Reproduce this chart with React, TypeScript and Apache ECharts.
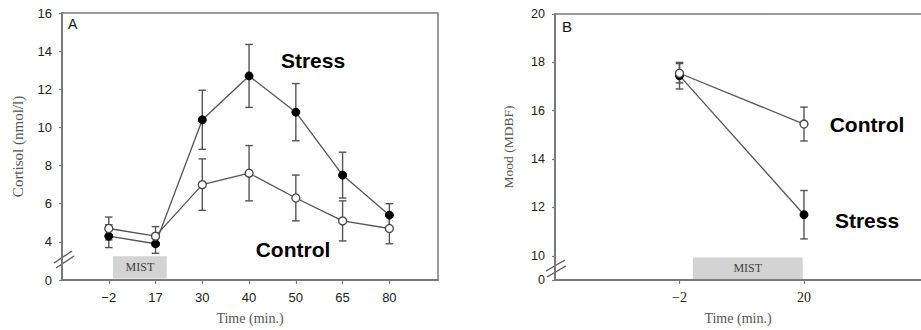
import React, { useEffect, useRef } from "react";
import * as echarts from "echarts";

// Panel A: salivary cortisol
const timesA = ["−2", "17", "30", "40", "50", "65", "80"];
const cortisolStress = [4.3, 3.9, 10.4, 12.7, 10.8, 7.5, 5.4];
const cortisolStressErr = [0.6, 0.5, 1.55, 1.65, 1.5, 1.2, 0.6];
const cortisolControl = [4.7, 4.3, 7.0, 7.6, 6.3, 5.1, 4.7];
const cortisolControlErr = [0.6, 0.5, 1.35, 1.45, 1.2, 1.05, 0.8];
const cortisolTicks = [2, 4, 6, 8, 10, 12, 14, 16]; // 2 is drawn as "0" (axis break)

// Panel B: mood
const timesB = ["−2", "20"];
const moodStress = [17.45, 11.7];
const moodStressErr = [0.55, 1.0];
const moodControl = [17.55, 15.45];
const moodControlErr = [0.4, 0.7];
const moodTicks = [9, 10, 12, 14, 16, 18, 20]; // 9 is drawn as "0" (axis break)

const SANS = "Liberation Sans, Arial, sans-serif";
const SERIF = "Liberation Serif, Times New Roman, serif";
const AXIS = "#7a7a7a";
const LINE = "#555";

function errData(vals: number[], errs: number[]) {
  return vals.map((v, i) => [i + 1, v - errs[i], v + errs[i]]);
}
function pts(vals: number[]) {
  return vals.map((v, i) => [i + 1, v]);
}

function errorBarSeries(data: number[][], axisIdx: number) {
  return {
    type: "custom",
    xAxisIndex: axisIdx,
    yAxisIndex: axisIdx,
    z: 2,
    data,
    renderItem: (params: any, api: any) => {
      const x = api.value(0);
      const lo = api.coord([x, api.value(1)]);
      const hi = api.coord([x, api.value(2)]);
      const w = 3.8;
      const style = { stroke: LINE, lineWidth: 1.4 };
      return {
        type: "group",
        children: [
          { type: "line", shape: { x1: lo[0], y1: lo[1], x2: hi[0], y2: hi[1] }, style },
          { type: "line", shape: { x1: lo[0] - w, y1: lo[1], x2: lo[0] + w, y2: lo[1] }, style },
          { type: "line", shape: { x1: hi[0] - w, y1: hi[1], x2: hi[0] + w, y2: hi[1] }, style },
        ],
      };
    },
  };
}

function lineSeries(vals: number[], filled: boolean, axisIdx: number, extra: any = {}) {
  return {
    type: "line",
    xAxisIndex: axisIdx,
    yAxisIndex: axisIdx,
    z: 3,
    data: pts(vals),
    symbol: "circle",
    symbolSize: 8,
    lineStyle: { color: LINE, width: 1.3 },
    itemStyle: filled
      ? { color: "#000", borderColor: "#000", borderWidth: 1 }
      : { color: "#fff", borderColor: "#444", borderWidth: 1.3 },
    ...extra,
  };
}

function mistArea(x0: number, y0: number, x1: number, y1: number) {
  return {
    markArea: {
      silent: true,
      itemStyle: { color: "#d3d3d3", opacity: 1 },
      label: {
        show: true,
        position: "inside",
        formatter: "MIST",
        fontFamily: SERIF,
        fontSize: 12,
        color: "#444",
      },
      data: [[{ xAxis: x0, yAxis: y0 }, { xAxis: x1, yAxis: y1 }]],
    },
  };
}

export default function App() {
  const ref = useRef<HTMLDivElement>(null);
  useEffect(() => {
    if (!ref.current) return;
    const chart = echarts.init(ref.current, undefined, { renderer: "svg" });

    const yAxisCommon = (min: number, max: number, ticks: number[], breakVal: number, name: string, gap: number, gridIndex: number, fs: number, nameFs: number) => ({
      type: "value",
      gridIndex,
      min,
      max,
      axisLine: { show: true, lineStyle: { color: AXIS, width: 2 } },
      axisTick: { show: true, length: 3, lineStyle: { color: AXIS, width: 1.2 }, customValues: ticks },
      axisLabel: {
        customValues: ticks,
        margin: 10,
        fontFamily: SANS,
        fontSize: fs,
        color: "#222",
        formatter: (v: number) => (v === breakVal ? "0" : String(v)),
      },
      splitLine: { show: false },
      name,
      nameLocation: "middle",
      nameGap: gap,
      nameTextStyle: { fontFamily: SERIF, fontSize: nameFs, color: "#555" },
    });

    const option: any = {
      animation: false,
      grid: [
        { left: 62, top: 13, width: 376, height: 268, show: true, borderColor: AXIS, borderWidth: 1.5, backgroundColor: "transparent" },
        { left: 555, top: 14, width: 366, height: 269, show: false },
      ],
      xAxis: [
        {
          type: "value",
          gridIndex: 0,
          min: 0,
          max: 8.04,
          axisLine: { show: true, lineStyle: { color: AXIS, width: 2 } },
          axisTick: { show: true, length: 4, lineStyle: { color: AXIS, width: 1.2 }, customValues: [1, 2, 3, 4, 5, 6, 7] },
          axisLabel: {
            customValues: [1, 2, 3, 4, 5, 6, 7],
            margin: 11,
            fontFamily: SANS,
            fontSize: 13,
            color: "#222",
            formatter: (v: number) => timesA[Math.round(v) - 1] ?? "",
          },
          splitLine: { show: false },
          name: "Time (min.)",
          nameLocation: "middle",
          nameGap: 31,
          nameTextStyle: { fontFamily: SERIF, fontSize: 14, color: "#555" },
        },
        {
          type: "value",
          gridIndex: 1,
          min: 0,
          max: 2.94,
          axisLine: { show: true, lineStyle: { color: AXIS, width: 2 } },
          axisTick: { show: true, length: 4, lineStyle: { color: AXIS, width: 1.2 }, customValues: [1, 2] },
          axisLabel: {
            customValues: [1, 2],
            margin: 10,
            fontFamily: SERIF,
            fontSize: 14,
            color: "#222",
            formatter: (v: number) => timesB[Math.round(v) - 1] ?? "",
          },
          splitLine: { show: false },
          name: "Time (min.)",
          nameLocation: "middle",
          nameGap: 31,
          nameTextStyle: { fontFamily: SERIF, fontSize: 14, color: "#555" },
        },
        {
          type: "value",
          gridIndex: 1,
          position: "top",
          min: 0,
          max: 2.94,
          axisLine: { show: true, lineStyle: { color: AXIS, width: 1.5 } },
          axisTick: { show: false },
          axisLabel: { show: false },
          splitLine: { show: false },
        },
      ],
      yAxis: [
        yAxisCommon(2, 16, cortisolTicks, 2, "Cortisol (nmol/l)", 37, 0, 13, 15),
        yAxisCommon(9, 20, moodTicks, 9, "Mood (MDBF)", 40, 1, 12.5, 13.5),
      ],
      series: [
        errorBarSeries(errData(cortisolStress, cortisolStressErr), 0),
        errorBarSeries(errData(cortisolControl, cortisolControlErr), 0),
        lineSeries(cortisolStress, true, 0, mistArea(1.09, 2.08, 2.24, 3.25)),
        lineSeries(cortisolControl, false, 0),
        errorBarSeries(errData(moodStress, moodStressErr), 1),
        errorBarSeries(errData(moodControl, moodControlErr), 1),
        lineSeries(moodStress, true, 1, mistArea(1.107, 9.04, 1.99, 9.93)),
        lineSeries(moodControl, false, 1),
      ],
      graphic: [
        { type: "text", left: 68, top: 17, style: { text: "A", fontFamily: SANS, fontSize: 14, fill: "#111" } },
        { type: "text", left: 562, top: 19, style: { text: "B", fontFamily: SANS, fontSize: 15, fill: "#111" } },
        { type: "text", x: 313, y: 60, style: { text: "Stress", fontFamily: SANS, fontWeight: "bold", fontSize: 21, fill: "#000", align: "center", verticalAlign: "middle" } },
        { type: "text", x: 293, y: 249, style: { text: "Control", fontFamily: SANS, fontWeight: "bold", fontSize: 21, fill: "#000", align: "center", verticalAlign: "middle" } },
        { type: "text", x: 867, y: 124, style: { text: "Control", fontFamily: SANS, fontWeight: "bold", fontSize: 21, fill: "#000", align: "center", verticalAlign: "middle" } },
        { type: "text", x: 867, y: 220, style: { text: "Stress", fontFamily: SANS, fontWeight: "bold", fontSize: 21, fill: "#000", align: "center", verticalAlign: "middle" } },
        // axis-break marks
        { type: "line", shape: { x1: 54, y1: 263, x2: 72, y2: 251 }, style: { stroke: LINE, lineWidth: 1.3 } },
        { type: "line", shape: { x1: 56, y1: 268, x2: 74, y2: 256 }, style: { stroke: LINE, lineWidth: 1.3 } },
        { type: "line", shape: { x1: 546, y1: 271, x2: 565, y2: 260 }, style: { stroke: LINE, lineWidth: 1.3 } },
        { type: "line", shape: { x1: 547, y1: 277, x2: 566, y2: 266 }, style: { stroke: LINE, lineWidth: 1.3 } },
      ],
    };
    chart.setOption(option);
    return () => chart.dispose();
  }, []);
  return <div ref={ref} style={{ position: "absolute", left: 0, top: 0, width: 921, height: 330 }} />;
}
